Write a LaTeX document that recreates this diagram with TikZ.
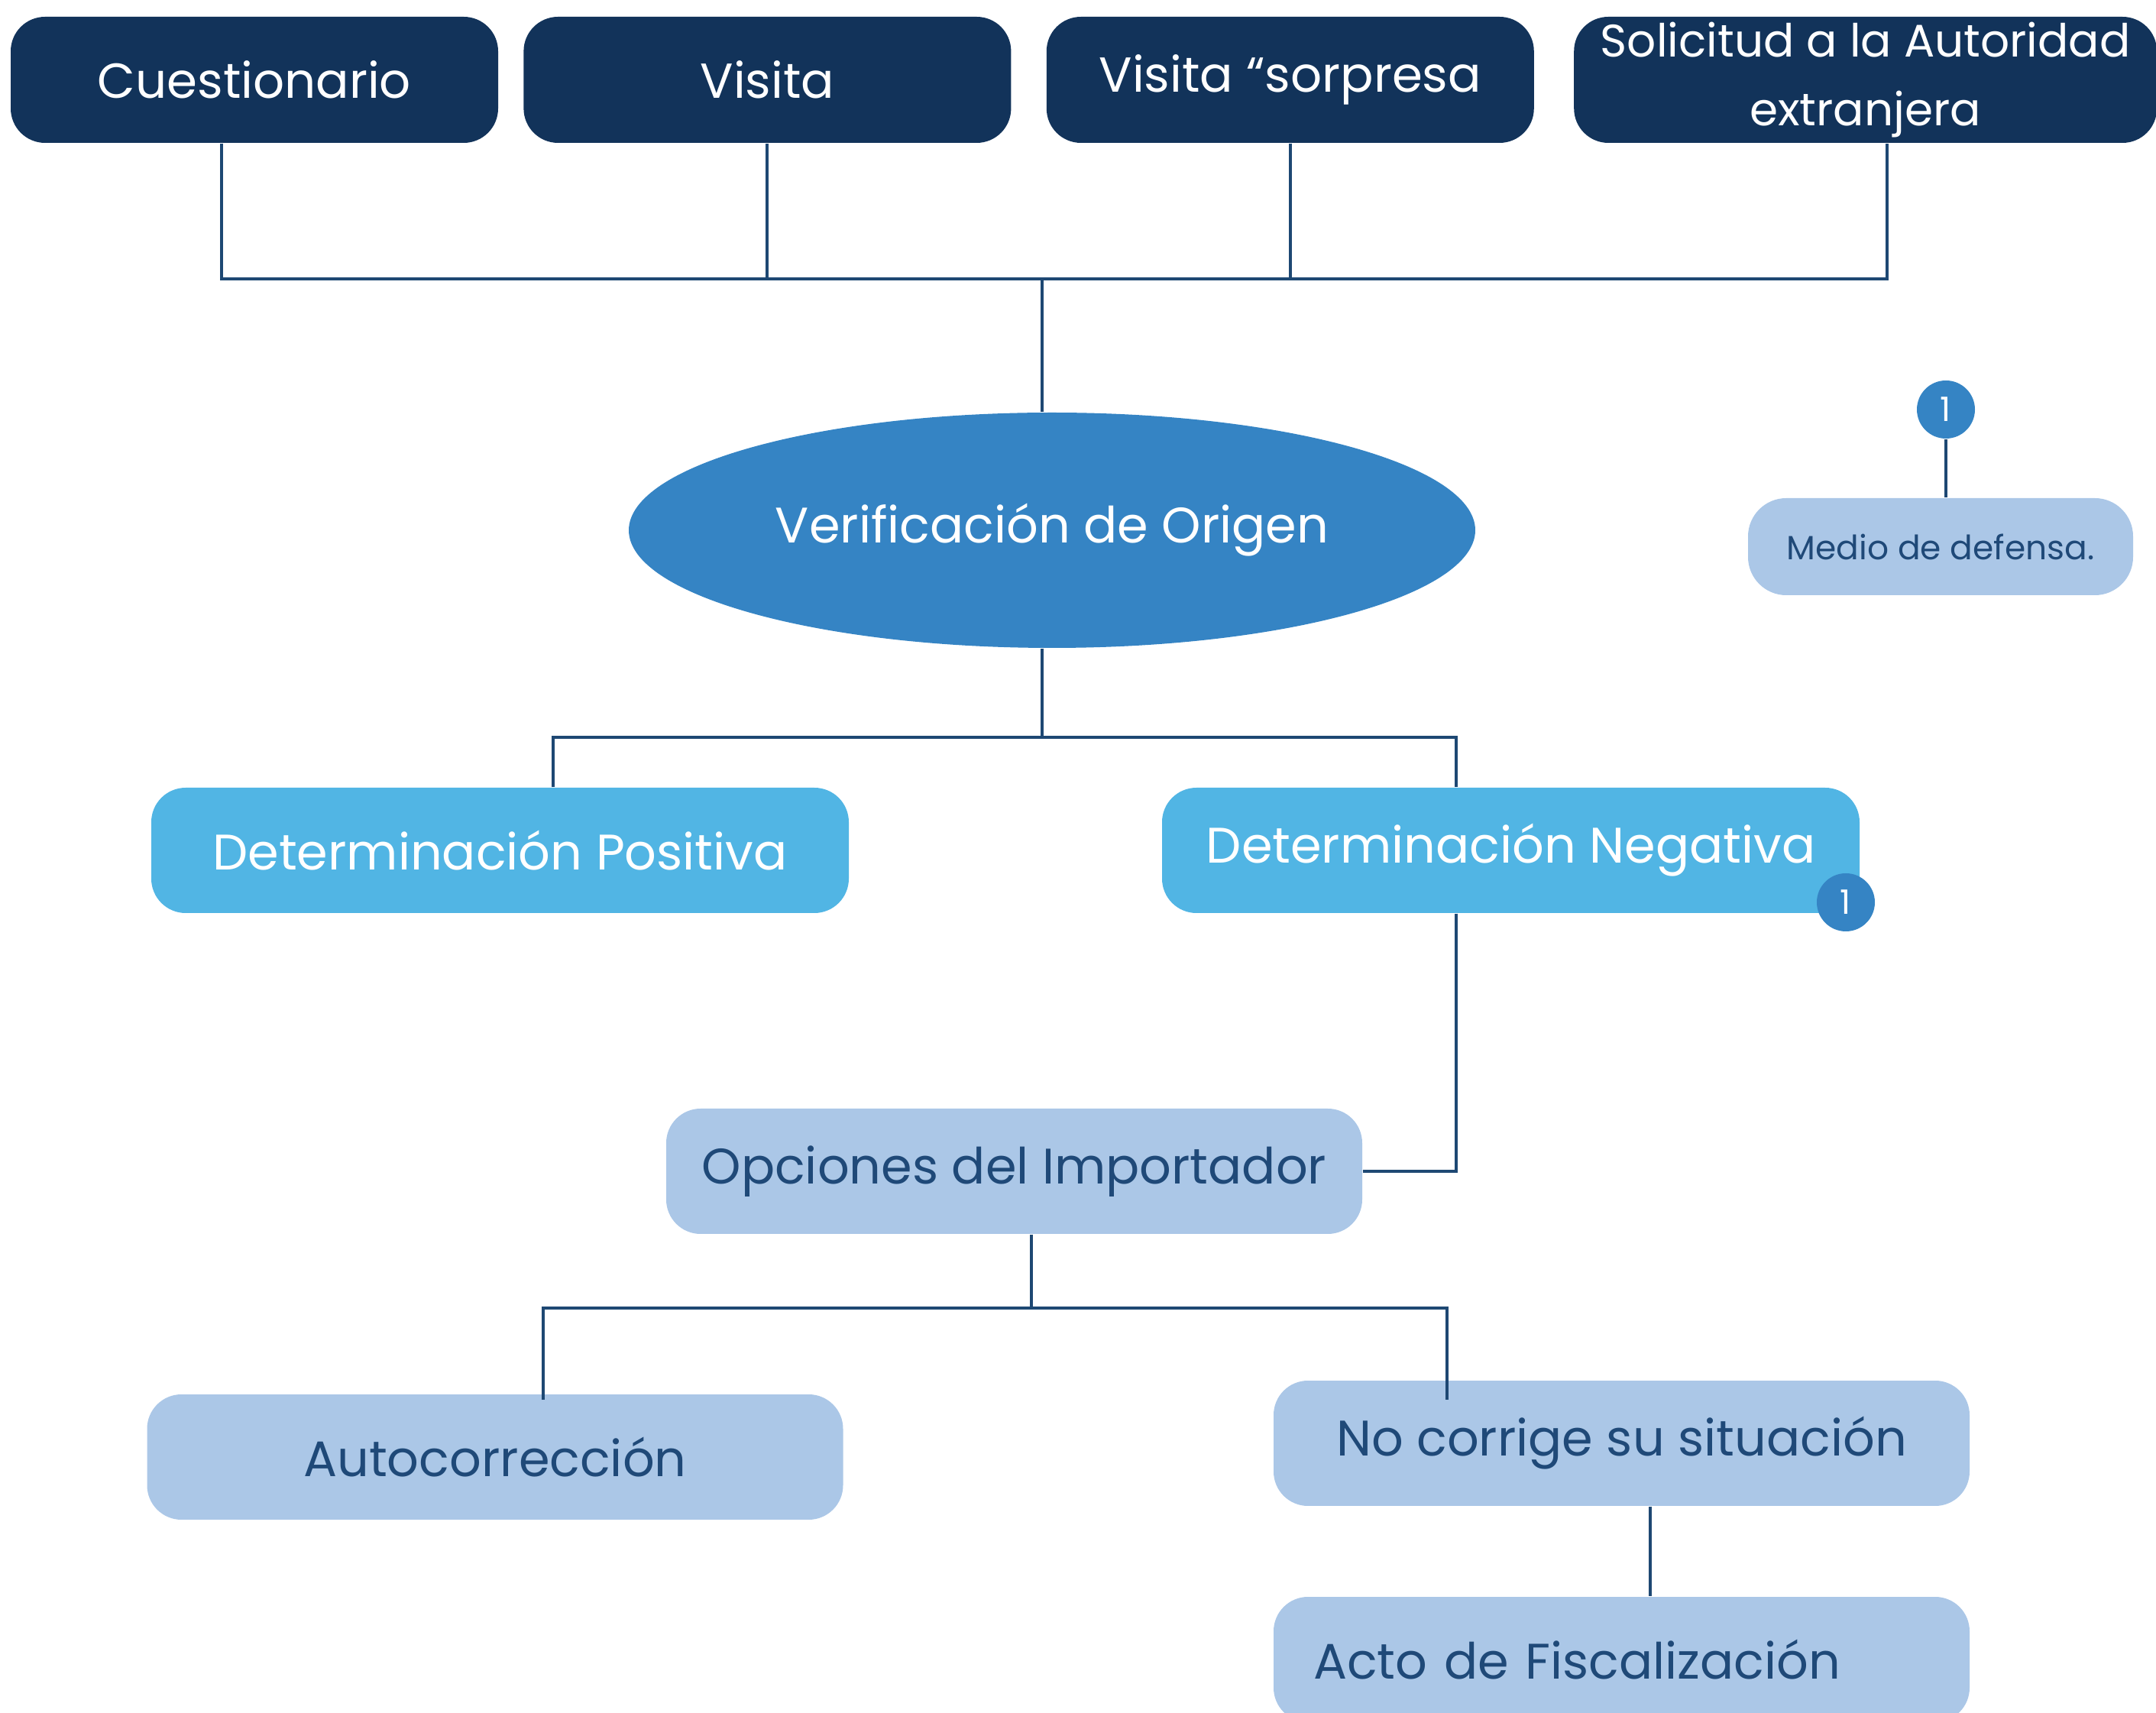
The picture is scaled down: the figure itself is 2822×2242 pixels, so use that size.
\documentclass[tikz,border=0pt]{standalone}
\usepackage{fontspec}
\setmainfont{Poppins}
\usetikzlibrary{positioning,shapes.geometric}
\definecolor{navy}{RGB}{18,51,90}
\definecolor{midblue}{RGB}{53,132,196}
\definecolor{skyblue}{RGB}{81,181,228}
\definecolor{paleblue}{RGB}{171,199,231}
\definecolor{inkblue}{RGB}{31,73,120}
\definecolor{wire}{RGB}{30,72,115}
\tikzset{
  topbox/.style={fill=navy,rounded corners=4.5mm,minimum width=63.8mm,
    minimum height=16.5mm,inner sep=0pt,text=white,align=center,
    font=\fontsize{18.3}{25}\selectfont},
  skybox/.style={fill=skyblue,rounded corners=4.5mm,minimum width=91.3mm,
    minimum height=16.4mm,inner sep=0pt,text=white,
    font=\fontsize{18.6}{25}\selectfont},
  palebox/.style={fill=paleblue,rounded corners=4.5mm,minimum width=91.1mm,
    minimum height=16.4mm,inner sep=0pt,text=inkblue,
    font=\fontsize{18.6}{25}\selectfont},
  oval/.style={ellipse,fill=midblue,minimum width=110.8mm,minimum height=30.8mm,
    inner sep=0pt,text=white,font=\fontsize{18.6}{25}\selectfont},
  badge/.style={circle,fill=midblue,minimum size=7.6mm,inner sep=0pt,
    text=white,font=\fontsize{12.5}{14}\selectfont},
  link/.style={draw=wire,line width=1.1pt},
}

\begin{document}
\begin{tikzpicture}[x=0.1mm,y=-0.1mm]
  \useasboundingbox (0,0) rectangle (2822,2242);
  \clip (0,0) rectangle (2822,2242);
  \node[topbox] (cuest) at (333,104.5) {Cuestionario};
  \node[topbox,right=3.2mm of cuest] (visita) {Visita};
  \node[topbox,right=4.5mm of visita] (sorpresa) {Visita “sorpresa};
  \node[topbox,right=5.1mm of sorpresa,minimum width=76.3mm,
    font=\fontsize{17}{25.5}\selectfont] (solic)
    {Solicitud a la Autoridad\\extranjera};
  \node[oval] (verif) at (1377,694) {Verificación de Origen};
  \node[skybox] (pos) at (654.5,1113) {Determinación Positiva};
  \node[skybox] (neg) at (1977.5,1113) {Determinación Negativa};
  \node[palebox] (opc) at (1327.5,1533) {Opciones del Importador};
  \node[palebox] (auto) at (648,1907) {Autocorrección};
  \node[palebox] (nocorr) at (2122.5,1889) {No corrige su situación};
  \node[palebox,minimum width=0pt,text width=80.7mm,inner xsep=5.2mm,
    align=left] (acto) at (2122.5,2172) {Acto de Fiscalización};
  \node[palebox,minimum width=50.4mm,minimum height=12.7mm,rounded corners=5mm,
    font=\fontsize{12.5}{15}\selectfont] (medio) at (2540,715.5) {Medio de defensa.};
  \node[badge] (b1) at (2547,536) {1};

  \coordinate (busL) at (290,365);
  \coordinate (hub) at (1364,365);
  \coordinate (busR) at (2470,365);
  \draw[link] (cuest.south -| busL) -- (busL) -- (busR) -- (solic.south -| busR);
  \draw[link] (visita) -- (visita |- hub);
  \draw[link] (sorpresa) -- (sorpresa |- hub);
  \draw[link] (hub) -- (verif.north -| hub);

  \coordinate (splitL) at (724,965);
  \coordinate (splitR) at (1906,965);
  \draw[link] (verif.south -| hub) -- (hub |- splitL);
  \draw[link] (pos.north -| splitL) -- (splitL) -- (splitR) -- (neg.north -| splitR);
  \draw[link] (neg.south -| splitR) -- (splitR |- opc.east) -- (opc.east);

  \coordinate (forkL) at (711,1712);
  \coordinate (forkM) at (1350,1712);
  \coordinate (forkR) at (1894,1712);
  \draw[link] (opc.south -| forkM) -- (forkM);
  \draw[link] (711,1832) -- (forkL) -- (forkR) -- (1894,1832);
  \draw[link] (nocorr.south -| 2160,0) -- (acto.north -| 2160,0);
  \draw[link] (b1) -- (medio.north -| b1);

  \node[badge] (b2) at (2416,1181) {1};
\end{tikzpicture}
\end{document}
